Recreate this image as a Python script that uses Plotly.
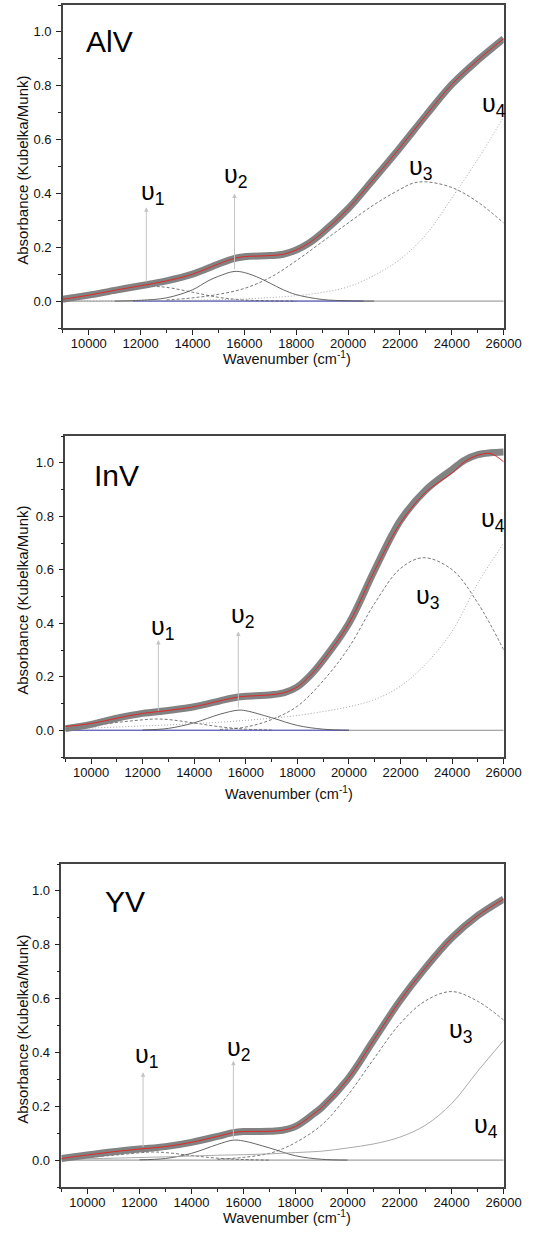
import plotly.graph_objects as go

# ---------------- data ----------------
# Panel 1: AlV
x_tot1 = [9000, 10000, 11000, 12000, 13000, 14000, 15000, 15600, 16000, 17000, 17500,
          18000, 18500, 19000, 20000, 21000, 22000, 23000, 24000, 25000, 26000]
data1 = [0.007, 0.022, 0.040, 0.057, 0.075, 0.100, 0.138, 0.158, 0.165, 0.169, 0.174,
         0.190, 0.216, 0.253, 0.343, 0.455, 0.570, 0.690, 0.805, 0.895, 0.975]
fit1 = [0.007, 0.022, 0.040, 0.057, 0.075, 0.100, 0.138, 0.158, 0.165, 0.169, 0.174,
        0.190, 0.216, 0.253, 0.343, 0.455, 0.570, 0.690, 0.805, 0.895, 0.975]
x_v1_1 = [9000, 10000, 11000, 12000, 12500, 13000, 14000, 15000, 16000, 17000, 18000]
v1_1 = [0.004, 0.014, 0.031, 0.049, 0.054, 0.051, 0.033, 0.014, 0.004, 0.001, 0.0]
x_v2_1 = [11000, 12000, 13000, 14000, 14600, 15000, 15600, 16000, 16600, 17000, 17500,
          18000, 19000, 20000, 21000]
v2_1 = [0.0, 0.003, 0.012, 0.042, 0.075, 0.092, 0.110, 0.106, 0.085, 0.066, 0.042,
        0.024, 0.006, 0.001, 0.0]
x_v3_1 = [13000, 14000, 15000, 16000, 17000, 18000, 19000, 20000, 21000, 22000, 22500,
          23000, 24000, 25000, 26000]
v3_1 = [0.004, 0.012, 0.025, 0.047, 0.088, 0.150, 0.220, 0.290, 0.358, 0.415, 0.438,
        0.443, 0.422, 0.368, 0.290]
x_v4_1 = [9000, 12000, 14000, 15000, 16000, 17000, 18000, 19000, 20000, 21000, 22000,
          23000, 24000, 25000, 26000]
v4_1 = [0.0, 0.001, 0.003, 0.005, 0.008, 0.013, 0.020, 0.032, 0.053, 0.095, 0.155,
        0.247, 0.383, 0.527, 0.685]
x_blue1 = [11700, 20600]
blue1 = [0.0, 0.0]

# Panel 2: InV
x_tot2 = [9000, 10000, 11000, 12000, 13000, 14000, 15000, 15700, 16000, 17000, 17500,
          18000, 18500, 19000, 20000, 21000, 22000, 23000, 24000, 24500, 25000, 25500, 26000]
data2 = [0.006, 0.022, 0.045, 0.063, 0.074, 0.088, 0.110, 0.124, 0.127, 0.133, 0.141,
         0.162, 0.205, 0.262, 0.400, 0.600, 0.785, 0.900, 0.975, 1.010, 1.030, 1.037, 1.040]
fit2 = [0.014, 0.025, 0.045, 0.063, 0.074, 0.088, 0.110, 0.124, 0.127, 0.133, 0.141,
        0.162, 0.205, 0.262, 0.400, 0.598, 0.775, 0.892, 0.962, 1.005, 1.028, 1.034, 1.003]
x_v1_2 = [9000, 10000, 11000, 12000, 12500, 13000, 14000, 15000, 16000, 17000]
v1_2 = [0.006, 0.017, 0.029, 0.039, 0.042, 0.040, 0.027, 0.013, 0.004, 0.001]
x_v2_2 = [12000, 13000, 14000, 15000, 15700, 16000, 17000, 18000, 19000, 20000]
v2_2 = [0.001, 0.007, 0.028, 0.060, 0.075, 0.073, 0.047, 0.018, 0.004, 0.0]
x_v3_2 = [15000, 16000, 17000, 18000, 19000, 20000, 21000, 22000, 22900, 24000, 25000, 26000]
v3_2 = [0.003, 0.012, 0.040, 0.090, 0.185, 0.310, 0.475, 0.605, 0.645, 0.600, 0.475, 0.300]
x_v4_2 = [9000, 10000, 11000, 12000, 13000, 14000, 15000, 16000, 17000, 18000, 19000,
          20000, 21000, 22000, 23000, 24000, 25000, 26000]
v4_2 = [0.004, 0.008, 0.012, 0.016, 0.020, 0.025, 0.030, 0.037, 0.045, 0.055, 0.070,
        0.088, 0.115, 0.165, 0.250, 0.370, 0.550, 0.700]
x_blue2 = [9000, 20000]
blue2 = [0.0, 0.0]

# Panel 3: YV
x_tot3 = [9000, 10000, 11000, 12000, 13000, 14000, 15000, 15600, 16000, 17000, 17500,
          18000, 18700, 19000, 20000, 21000, 22000, 23000, 24000, 25000, 26000]
data3 = [0.006, 0.019, 0.031, 0.041, 0.050, 0.066, 0.088, 0.102, 0.106, 0.107, 0.111,
         0.125, 0.172, 0.195, 0.300, 0.445, 0.590, 0.715, 0.825, 0.908, 0.970]
fit3 = [0.006, 0.019, 0.031, 0.041, 0.050, 0.066, 0.088, 0.102, 0.106, 0.107, 0.111,
        0.125, 0.172, 0.195, 0.300, 0.445, 0.590, 0.715, 0.825, 0.908, 0.970]
x_v1_3 = [9000, 10000, 11000, 12000, 12500, 13000, 14000, 15000, 16000, 17000]
v1_3 = [0.004, 0.010, 0.018, 0.027, 0.030, 0.028, 0.017, 0.007, 0.002, 0.0]
x_v2_3 = [12000, 13000, 14000, 15000, 15600, 16000, 17000, 18000, 19000, 20000]
v2_3 = [0.001, 0.006, 0.025, 0.058, 0.074, 0.071, 0.045, 0.016, 0.003, 0.0]
x_v3_3 = [15000, 16000, 17000, 17500, 18000, 19000, 20000, 21000, 22000, 23000, 24000,
          25000, 26000]
v3_3 = [0.003, 0.010, 0.025, 0.042, 0.065, 0.130, 0.240, 0.375, 0.505, 0.592, 0.626,
        0.590, 0.520]
x_v4_3 = [9000, 11000, 13000, 15000, 16000, 17000, 18000, 19000, 20000, 21000, 22000,
          23000, 24000, 25000, 26000]
v4_3 = [0.003, 0.007, 0.012, 0.018, 0.020, 0.023, 0.028, 0.033, 0.045, 0.060, 0.085,
        0.130, 0.210, 0.330, 0.445]

panel_names = ["AlV", "InV", "YV"]
x_title = "Wavenumber (cm<sup>-1</sup>)"
y_title = "Absorbance (Kubelka/Munk)"
x_range = [9000, 26000]
y_range = [-0.1, 1.1]

# label positions (data coords) for the name and the υ labels
name_pos = [(9820, 0.966), (10030, 0.952), (10580, 0.959)]
ups_pos = [
    [(11937, 0.40), (15156, 0.463), (22278, 0.493), (25073, 0.73)],
    [(12244, 0.381), (15333, 0.428), (22523, 0.497), (25027, 0.787)],
    [(11765, 0.386), (15290, 0.413), (23809, 0.481), (24780, 0.128)],
]
arrows = [
    [(12220, 0.066, 0.349), (15620, 0.113, 0.40)],
    [(12610, 0.066, 0.337), (15710, 0.078, 0.369)],
    [(12140, 0.043, 0.326), (15610, 0.075, 0.369)],
]

W, H = 542, 1236
# plot-area pixel boxes (left, right, top, bottom) and title rows
boxes = [(65, 521, 5, 328), (67.5, 521, 436, 757), (63.5, 521, 864, 1187)]
xtitle_y = [358, 793, 1217]

FONT = "Liberation Sans, Arial, sans-serif"

fig = go.Figure()

panels = [
    (x_tot1, data1, fit1, x_v1_1, v1_1, x_v2_1, v2_1, x_v3_1, v3_1, x_v4_1, v4_1, x_blue1, blue1, "dot"),
    (x_tot2, data2, fit2, x_v1_2, v1_2, x_v2_2, v2_2, x_v3_2, v3_2, x_v4_2, v4_2, x_blue2, blue2, "dot"),
    (x_tot3, data3, fit3, x_v1_3, v1_3, x_v2_3, v2_3, x_v3_3, v3_3, x_v4_3, v4_3, None, None, "solid"),
]

for i, p in enumerate(panels):
    (xt, dat, fit, xa, a, xb, b, xc, c, xd, d, xbl, bl, v4dash) = p
    xa_id = "x" if i == 0 else f"x{i+1}"
    ya_id = "y" if i == 0 else f"y{i+1}"
    common = dict(xaxis=xa_id, yaxis=ya_id, mode="lines", showlegend=False, hoverinfo="skip")
    fig.add_trace(go.Scatter(x=x_range, y=[0, 0], line=dict(color="#8a8a8a", width=1), **common))
    if xbl is not None:
        fig.add_trace(go.Scatter(x=xbl, y=bl, line=dict(color="#5a5ad0", width=1), **common))
    fig.add_trace(go.Scatter(x=xa, y=a, line=dict(color="#555555", width=0.8, dash="3px,2px", shape="spline"), **common))
    fig.add_trace(go.Scatter(x=xb, y=b, line=dict(color="#555555", width=0.9, shape="spline"), **common))
    fig.add_trace(go.Scatter(x=xc, y=c, line=dict(color="#555555", width=0.8, dash="3px,2px", shape="spline"), **common))
    if v4dash == "dot":
        fig.add_trace(go.Scatter(x=xd, y=d, line=dict(color="#9a9a9a", width=0.9, dash="1px,2px", shape="spline"), **common))
    else:
        fig.add_trace(go.Scatter(x=xd, y=d, line=dict(color="#a0a0a0", width=0.9, shape="spline"), **common))
    fig.add_trace(go.Scatter(x=xt, y=dat, line=dict(color="rgb(124,124,124)", width=7, shape="spline"),
                             opacity=0.95, **common))
    fig.add_trace(go.Scatter(x=xt, y=fit, line=dict(color="rgb(225,40,40)", width=1, shape="spline"), **common))

    l, r, t, btm = boxes[i]
    xdom = [l / W, r / W]
    ydom = [(H - btm) / H, (H - t) / H]
    axis_common = dict(showline=True, mirror=True, linecolor="#444444", linewidth=1.5,
                       ticks="outside", ticklen=5, tickwidth=1, tickcolor="#222222",
                       showgrid=False, zeroline=False,
                       tickfont=dict(family=FONT, size=13, color="#111111"))
    fig.layout[("xaxis" if i == 0 else f"xaxis{i+1}")] = dict(
        domain=xdom, range=x_range, anchor=ya_id, dtick=2000, tick0=0, tickformat="d",
        ticklabelstandoff=-2,
        minor=dict(dtick=1000, ticks="outside", ticklen=3, tickcolor="#222222", showgrid=False),
        **axis_common)
    fig.layout[("yaxis" if i == 0 else f"yaxis{i+1}")] = dict(
        domain=ydom, range=y_range, anchor=xa_id, dtick=0.2, tick0=0, tickformat=".1f",
        ticklabelstandoff=2,
        minor=dict(dtick=0.1, ticks="outside", ticklen=3, tickcolor="#222222", showgrid=False),
        **axis_common)

    # axis titles
    fig.add_annotation(x=(l + r) / 2 / W + 0.008, y=(H - xtitle_y[i]) / H, xref="paper", yref="paper",
                       text=x_title, showarrow=False, xanchor="center", yanchor="middle",
                       font=dict(family=FONT, size=14.5, color="#111111"))
    fig.add_annotation(x=23 / W, y=(H - (t + btm) / 2 - 4) / H, xref="paper", yref="paper",
                       text=y_title, showarrow=False, textangle=-90, xanchor="center", yanchor="middle",
                       font=dict(family=FONT, size=15, color="#111111"))

    fig.add_annotation(x=name_pos[i][0], y=name_pos[i][1], xref=xa_id, yref=ya_id,
                       text=panel_names[i], showarrow=False, xanchor="left", yanchor="middle",
                       font=dict(family=FONT, size=30, color="#000000"))
    for k, (ux, uy) in enumerate(ups_pos[i]):
        fig.add_annotation(x=ux, y=uy, xref=xa_id, yref=ya_id,
                           text=f"υ<sub>{k+1}</sub>", showarrow=False, xanchor="left", yanchor="middle",
                           font=dict(family=FONT, size=25, color="#000000"))
    for (axx, y0, y1) in arrows[i]:
        fig.add_annotation(x=axx, y=y1, ax=axx, ay=y0, xref=xa_id, yref=ya_id,
                           axref=xa_id, ayref=ya_id, text="", showarrow=True,
                           arrowhead=2, arrowsize=0.9, arrowwidth=1, arrowcolor="#c4c4c4", standoff=0)

fig.update_layout(width=W, height=H, margin=dict(l=0, r=0, t=0, b=0),
                  paper_bgcolor="white", plot_bgcolor="white", showlegend=False)

fig.write_html("out.html", config={"displayModeBar": False},
               post_script="document.body.style.margin='0px';"
                           "document.documentElement.style.overflow='hidden';")
